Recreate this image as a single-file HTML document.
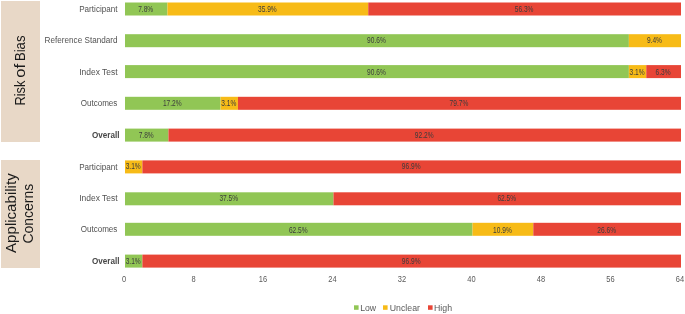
<!DOCTYPE html>
<html><head><meta charset="utf-8"><style>
html,body{margin:0;padding:0;background:#fff;}
body{width:685px;height:314px;overflow:hidden;position:relative;}
svg{display:block;will-change:transform;filter:blur(0.35px);}
text{font-family:"Liberation Sans",sans-serif;}
</style></head><body>
<svg width="685" height="314" viewBox="0 0 685 314">

<rect x="1" y="1" width="39" height="141" fill="#E8D8C7"/>
<rect x="1" y="160" width="39" height="108" fill="#E8D8C7"/>
<text transform="translate(25.10,105.58) rotate(-90) scale(0.8602,1)" font-size="15" fill="#1a1a1a">Risk</text>
<text transform="translate(25.10,77.66) rotate(-90) scale(1.1046,1)" font-size="15" fill="#1a1a1a">of</text>
<text transform="translate(25.10,61.09) rotate(-90) scale(0.8759,1)" font-size="15" fill="#1a1a1a">Bias</text>
<text transform="translate(15.60,252.95) rotate(-90) scale(1.0063,1)" font-size="15" fill="#1a1a1a">Applicability</text>
<text transform="translate(32.80,243.50) rotate(-90) scale(0.9316,1)" font-size="15" fill="#1a1a1a">Concerns</text>
<text transform="translate(79.21,11.80) scale(0.8536,1)" font-size="9.5" fill="#525252">Participant</text>
<rect x="125.00" y="2.5" width="42.44" height="13.0" fill="#91C655"/>
<text transform="translate(145.72,11.90) scale(0.76,1)" font-size="8.7" fill="#3c3c3c" text-anchor="middle">7.8%</text>
<rect x="167.44" y="2.5" width="200.81" height="13.0" fill="#F7BB17"/>
<text transform="translate(267.34,11.90) scale(0.76,1)" font-size="8.7" fill="#3c3c3c" text-anchor="middle">35.9%</text>
<rect x="368.25" y="2.5" width="312.75" height="13.0" fill="#E84536"/>
<text transform="translate(524.12,11.90) scale(0.76,1)" font-size="8.7" fill="#3c3c3c" text-anchor="middle">56.3%</text>
<text transform="translate(44.61,43.00) scale(0.8583,1)" font-size="9.5" fill="#525252">Reference Standard</text>
<rect x="125.00" y="34.2" width="503.88" height="13.0" fill="#91C655"/>
<text transform="translate(376.44,43.00) scale(0.76,1)" font-size="8.7" fill="#3c3c3c" text-anchor="middle">90.6%</text>
<rect x="628.88" y="34.2" width="52.12" height="13.0" fill="#F7BB17"/>
<text transform="translate(654.44,43.00) scale(0.76,1)" font-size="8.7" fill="#3c3c3c" text-anchor="middle">9.4%</text>
<text transform="translate(79.19,74.90) scale(0.8910,1)" font-size="9.5" fill="#525252">Index Test</text>
<rect x="125.00" y="65.1" width="503.88" height="13.0" fill="#91C655"/>
<text transform="translate(376.44,75.00) scale(0.76,1)" font-size="8.7" fill="#3c3c3c" text-anchor="middle">90.6%</text>
<rect x="628.88" y="65.1" width="17.38" height="13.0" fill="#F7BB17"/>
<text transform="translate(637.06,75.00) scale(0.76,1)" font-size="8.7" fill="#3c3c3c" text-anchor="middle">3.1%</text>
<rect x="646.25" y="65.1" width="34.75" height="13.0" fill="#E84536"/>
<text transform="translate(663.12,75.00) scale(0.76,1)" font-size="8.7" fill="#3c3c3c" text-anchor="middle">6.3%</text>
<text transform="translate(80.67,106.30) scale(0.8494,1)" font-size="9.5" fill="#525252">Outcomes</text>
<rect x="125.00" y="96.8" width="95.56" height="13.0" fill="#91C655"/>
<text transform="translate(172.28,106.10) scale(0.76,1)" font-size="8.7" fill="#3c3c3c" text-anchor="middle">17.2%</text>
<rect x="220.56" y="96.8" width="17.38" height="13.0" fill="#F7BB17"/>
<text transform="translate(228.75,106.10) scale(0.76,1)" font-size="8.7" fill="#3c3c3c" text-anchor="middle">3.1%</text>
<rect x="237.94" y="96.8" width="443.06" height="13.0" fill="#E84536"/>
<text transform="translate(458.97,106.10) scale(0.76,1)" font-size="8.7" fill="#3c3c3c" text-anchor="middle">79.7%</text>
<text transform="translate(91.93,137.70) scale(0.9017,1)" font-size="9.0" fill="#474747" font-weight="bold">Overall</text>
<rect x="125.00" y="128.6" width="43.44" height="13.0" fill="#91C655"/>
<text transform="translate(146.22,137.90) scale(0.76,1)" font-size="8.7" fill="#3c3c3c" text-anchor="middle">7.8%</text>
<rect x="168.44" y="128.6" width="512.56" height="13.0" fill="#E84536"/>
<text transform="translate(424.22,137.90) scale(0.76,1)" font-size="8.7" fill="#3c3c3c" text-anchor="middle">92.2%</text>
<text transform="translate(79.21,169.50) scale(0.8536,1)" font-size="9.5" fill="#525252">Participant</text>
<rect x="125.00" y="160.4" width="17.38" height="13.0" fill="#F7BB17"/>
<text transform="translate(133.19,169.30) scale(0.76,1)" font-size="8.7" fill="#3c3c3c" text-anchor="middle">3.1%</text>
<rect x="142.38" y="160.4" width="538.62" height="13.0" fill="#E84536"/>
<text transform="translate(411.19,169.30) scale(0.76,1)" font-size="8.7" fill="#3c3c3c" text-anchor="middle">96.9%</text>
<text transform="translate(79.19,201.00) scale(0.8910,1)" font-size="9.5" fill="#525252">Index Test</text>
<rect x="125.00" y="192.3" width="208.50" height="13.0" fill="#91C655"/>
<text transform="translate(228.75,200.90) scale(0.76,1)" font-size="8.7" fill="#3c3c3c" text-anchor="middle">37.5%</text>
<rect x="333.50" y="192.3" width="347.50" height="13.0" fill="#E84536"/>
<text transform="translate(506.75,200.90) scale(0.76,1)" font-size="8.7" fill="#3c3c3c" text-anchor="middle">62.5%</text>
<text transform="translate(80.67,232.30) scale(0.8494,1)" font-size="9.5" fill="#525252">Outcomes</text>
<rect x="125.00" y="222.8" width="347.50" height="13.0" fill="#91C655"/>
<text transform="translate(298.25,232.60) scale(0.76,1)" font-size="8.7" fill="#3c3c3c" text-anchor="middle">62.5%</text>
<rect x="472.50" y="222.8" width="60.81" height="13.0" fill="#F7BB17"/>
<text transform="translate(502.41,232.60) scale(0.76,1)" font-size="8.7" fill="#3c3c3c" text-anchor="middle">10.9%</text>
<rect x="533.31" y="222.8" width="147.69" height="13.0" fill="#E84536"/>
<text transform="translate(606.66,232.60) scale(0.76,1)" font-size="8.7" fill="#3c3c3c" text-anchor="middle">26.6%</text>
<text transform="translate(91.93,263.80) scale(0.9017,1)" font-size="9.0" fill="#474747" font-weight="bold">Overall</text>
<rect x="125.00" y="254.6" width="17.38" height="13.0" fill="#91C655"/>
<text transform="translate(133.19,263.90) scale(0.76,1)" font-size="8.7" fill="#3c3c3c" text-anchor="middle">3.1%</text>
<rect x="142.38" y="254.6" width="538.62" height="13.0" fill="#E84536"/>
<text transform="translate(411.19,263.90) scale(0.76,1)" font-size="8.7" fill="#3c3c3c" text-anchor="middle">96.9%</text>
<text transform="translate(124.00,281.9) scale(0.87,1)" font-size="8.6" fill="#595959" text-anchor="middle">0</text>
<text transform="translate(193.50,281.9) scale(0.87,1)" font-size="8.6" fill="#595959" text-anchor="middle">8</text>
<text transform="translate(263.00,281.9) scale(0.87,1)" font-size="8.6" fill="#595959" text-anchor="middle">16</text>
<text transform="translate(332.50,281.9) scale(0.87,1)" font-size="8.6" fill="#595959" text-anchor="middle">24</text>
<text transform="translate(402.00,281.9) scale(0.87,1)" font-size="8.6" fill="#595959" text-anchor="middle">32</text>
<text transform="translate(471.50,281.9) scale(0.87,1)" font-size="8.6" fill="#595959" text-anchor="middle">40</text>
<text transform="translate(541.00,281.9) scale(0.87,1)" font-size="8.6" fill="#595959" text-anchor="middle">48</text>
<text transform="translate(610.50,281.9) scale(0.87,1)" font-size="8.6" fill="#595959" text-anchor="middle">56</text>
<text transform="translate(680.00,281.9) scale(0.87,1)" font-size="8.6" fill="#595959" text-anchor="middle">64</text>
<rect x="354.0" y="305.3" width="4.6" height="4.5" fill="#91C655"/>
<text transform="translate(360.14,310.9) scale(0.8895,1)" font-size="9.8" fill="#595959">Low</text>
<rect x="383.0" y="305.3" width="4.6" height="4.5" fill="#F7BB17"/>
<text transform="translate(389.78,310.9) scale(0.8950,1)" font-size="9.8" fill="#595959">Unclear</text>
<rect x="428.0" y="305.3" width="4.6" height="4.5" fill="#E84536"/>
<text transform="translate(434.04,310.9) scale(0.8930,1)" font-size="9.8" fill="#595959">High</text>
</svg>
</body></html>
